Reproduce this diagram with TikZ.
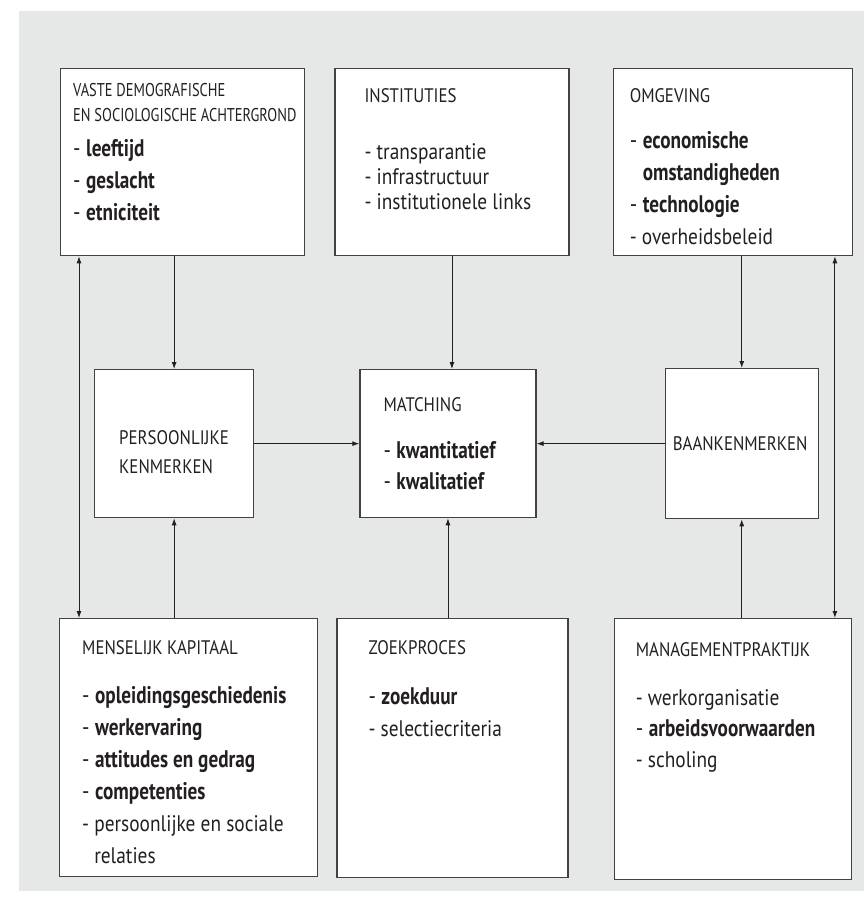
\documentclass[tikz,border=0pt]{standalone}
\usepackage{fontspec}
\setmainfont{PT Sans}[FakeStretch=0.86]
\newfontfamily\boldfam{PT Sans Bold}[FakeStretch=0.8]
\newfontfamily\narrowfam{PT Sans}[FakeStretch=0.78]
\usepackage{tikz}
\usetikzlibrary{positioning,arrows.meta}
\definecolor{bggray}{RGB}{230,231,231}
\definecolor{ink}{RGB}{35,31,32}
\newcommand{\bitem}[1]{{\fontsize{24}{32}\selectfont - {\boldfam #1}}}
\newcommand{\ritem}[1]{{\fontsize{22.5}{25}\selectfont - #1}}

\begin{document}
\begin{tikzpicture}[
		x=1pt, y=-1pt
		,box/.style={draw=ink!85, line width=1.3pt, fill=white, inner sep=0pt}
		,txt/.style={align=left, inner sep=0pt, text=ink, font=\fontsize{19.6}{25}\selectfont}
		,arr/.style={-{Latex[length=7pt,width=5pt]}, line width=0.9pt, draw=ink}
		,dbl/.style={{Latex[length=7pt,width=5pt]}-{Latex[length=7pt,width=5pt]}, line width=0.9pt, draw=ink}
	]
		\useasboundingbox (0,0) rectangle (864,901);
		\fill[bggray] (19,11) rectangle (864,891);

		\node[box, anchor=north west, minimum width=244pt, minimum height=187pt] (vaste) at (60,68) {};
		\node[box, right=29pt of vaste.north east, anchor=north west, minimum width=234pt, minimum height=187pt] (inst) {};
		\node[box, right=43pt of inst.north east, anchor=north west, minimum width=239pt, minimum height=187pt] (omg) {};

		\node[box, anchor=north west, minimum width=159pt, minimum height=148pt] (pers) at (94,369) {};
		\node[box, right=105pt of pers, minimum width=176pt, minimum height=148pt] (match) {};
		\node[box, right=128pt of match, minimum width=153pt, minimum height=150pt] (baan) {};

		\node[box, anchor=north west, minimum width=258pt, minimum height=258pt] (mens) at (59,618) {};
		\node[box, right=18pt of mens.north east, anchor=north west, minimum width=231pt, minimum height=259pt] (zoek) {};
		\node[box, right=45pt of zoek.north east, anchor=north west, minimum width=237pt, minimum height=261pt] (man) {};

		\node[txt, below right=15pt and 13pt of vaste.north west] (vastetxt) {{\narrowfam\fontsize{18.5}{25}\selectfont VASTE DEMOGRAFISCHE}\\{\narrowfam\fontsize{18.5}{25}\selectfont EN SOCIOLOGISCHE ACHTERGROND}\\[10pt]\bitem{leeftijd}\\[7pt]\bitem{geslacht}\\[7pt]\bitem{etniciteit}};
		\node[txt, below right=20pt and 30pt of inst.north west] (insttxt) {INSTITUTIES\\[32pt]\ritem{transparantie}\\\ritem{infrastructuur}\\\ritem{institutionele links}};
		\node[txt, below right=20pt and 17pt of omg.north west] (omgtxt) {OMGEVING\\[21pt]\bitem{economische}\\[7pt]{\fontsize{24}{32}\selectfont\phantom{- }{\boldfam omstandigheden}}\\[7pt]\bitem{technologie}\\[7pt]\ritem{overheidsbeleid}};
		\node[txt, below right=61pt and 25pt of pers.north west] (perstxt) {PERSOONLIJKE\\[4pt]KENMERKEN};
		\node[txt, below right=28pt and 24pt of match.north west] (matchtxt) {MATCHING\\[22pt]\bitem{kwantitatief}\\[6pt]\bitem{kwalitatief}};
		\node[txt, right=8pt of baan.west] (baantxt) {BAANKENMERKEN};
		\node[txt, below right=22pt and 23pt of mens.north west] (menstxt) {MENSELIJK KAPITAAL\\[24pt]\bitem{opleidingsgeschiedenis}\\[7pt]\bitem{werkervaring}\\[7pt]\bitem{attitudes en gedrag}\\[7pt]\bitem{competenties}\\[7pt]\ritem{persoonlijke en sociale}\\[7pt]{\fontsize{22.5}{25}\selectfont\phantom{- }relaties}};
		\node[txt, below right=22pt and 32pt of zoek.north west] (zoektxt) {ZOEKPROCES\\[25pt]\bitem{zoekduur}\\[7pt]\ritem{selectiecriteria}};
		\node[txt, below right=24pt and 22pt of man.north west] (mantxt) {MANAGEMENTPRAKTIJK\\[24pt]\ritem{werkorganisatie}\\[6pt]\bitem{arbeidsvoorwaarden}\\[6pt]\ritem{scholing}};

		\draw[arr] (vaste.south -| pers.north) -- (pers.north);
		\draw[arr] (inst.south) -- (inst.south |- match.north);
		\draw[arr] (omg.south -| baan.north) -- (baan.north);
		\draw[arr] (mens.north -| pers.south) -- (pers.south);
		\draw[arr] (zoek.north -| match.south) -- (match.south);
		\draw[arr] (man.north -| baan.south) -- (baan.south);
		\draw[arr] (pers.east) -- (match.west);
		\draw[arr] (baan.west) -- (match.east);
		\draw[dbl] ([xshift=19pt]vaste.south west) -- ([xshift=19pt]vaste.south west |- mens.north);
		\draw[dbl] ([xshift=-18pt]omg.south east) -- ([xshift=-18pt]omg.south east |- man.north);
	\end{tikzpicture}
\end{document}
